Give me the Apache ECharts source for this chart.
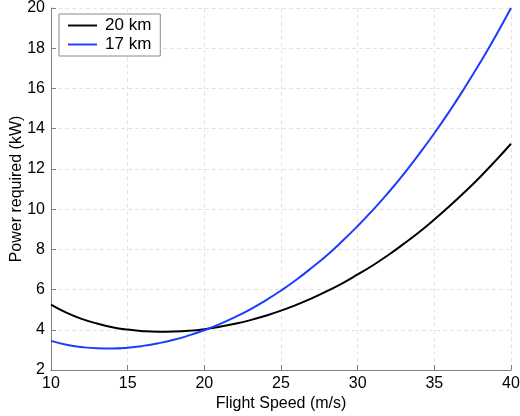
<!DOCTYPE html>
<html>
<head>
<meta charset="utf-8">
<script src="https://cdn.jsdelivr.net/npm/echarts@6/dist/echarts.min.js"></script>
<style>
  html, body { margin: 0; padding: 0; background: #fff; }
  #chart { width: 520px; height: 416px; }
</style>
</head>
<body>
<div id="chart"></div>
<script>
// flight speed (m/s)
const speeds = [10, 11, 12, 13, 14, 15, 16, 17, 18, 19, 20, 21, 22, 23, 24, 25,
  26, 27, 28, 29, 30, 31, 32, 33, 34, 35, 36, 37, 38, 39, 40];
// power required (kW) at 20 km
const power20km = [5.25, 4.85, 4.54, 4.31, 4.13, 4.01, 3.93, 3.90, 3.91, 3.95, 4.03,
  4.15, 4.30, 4.48, 4.70, 4.95, 5.24, 5.56, 5.92, 6.31, 6.75, 7.21, 7.72, 8.27,
  8.85, 9.48, 10.15, 10.86, 11.61, 12.41, 13.25];
// power required (kW) at 17 km
const power17km = [3.45, 3.26, 3.14, 3.08, 3.07, 3.11, 3.20, 3.33, 3.50, 3.72, 3.98,
  4.28, 4.63, 5.02, 5.46, 5.95, 6.49, 7.08, 7.71, 8.41, 9.16, 9.96, 10.82, 11.74,
  12.73, 13.77, 14.88, 16.06, 17.30, 18.61, 20.00];
const seriesNames = ["20 km", "17 km"];

const font = "Liberation Sans, Arial, sans-serif";

const pairs = (ys) => speeds.map((x, i) => [x, ys[i]]);

const chart = echarts.init(document.getElementById("chart"));

// shared axis look: gray line, inner ticks, dashed light grid
const axisBase = {
  axisLine: { show: true, lineStyle: { color: "#7f7f7f", width: 1 } },
  axisTick: { show: true, inside: true, length: 5, lineStyle: { color: "#7f7f7f" } },
  splitLine: { show: true, lineStyle: { color: "#e4e4e4", type: [4, 3], width: 1 } },
  axisLabel: { color: "#000", fontSize: 16, fontFamily: font },
  nameTextStyle: { color: "#000", fontSize: 16, fontFamily: font },
  nameMoveOverlap: false,
};

chart.setOption({
  animation: false,
  backgroundColor: "#fff",
  grid: { left: 51, right: 9, top: 8, bottom: 46, outerBoundsMode: "none" },
  legend: {
    left: 59,
    top: 14,
    orient: "vertical",
    data: seriesNames,
    backgroundColor: "#fff",
    borderColor: "#8a8a8a",
    borderWidth: 1,
    borderRadius: 0,
    padding: [3, 9, 3, 9],
    itemGap: 2,
    itemWidth: 29,
    itemHeight: 15,
    textStyle: { color: "#000", fontSize: 17, fontFamily: font, padding: [0, 0, 0, 3] },
    icon: "path://M0,6 L30,6 L30,8 L0,8 Z",
  },
  xAxis: Object.assign({}, axisBase, {
    type: "value",
    min: 10,
    max: 40,
    interval: 5,
    name: "Flight Speed (m/s)",
    nameLocation: "middle",
    nameGap: 26,
    axisLabel: Object.assign({}, axisBase.axisLabel, { margin: 6 }),
  }),
  yAxis: Object.assign({}, axisBase, {
    type: "value",
    min: 2,
    max: 20,
    interval: 2,
    name: "Power required (kW)",
    nameLocation: "middle",
    nameGap: 26,
    axisLabel: Object.assign({}, axisBase.axisLabel, { margin: 6 }),
  }),
  series: [
    {
      name: seriesNames[0],
      type: "line",
      data: pairs(power20km),
      smooth: true,
      showSymbol: false,
      color: "#000",
      lineStyle: { width: 2, color: "#000" },
    },
    {
      name: seriesNames[1],
      type: "line",
      data: pairs(power17km),
      smooth: true,
      showSymbol: false,
      color: "#1c3cff",
      lineStyle: { width: 2, color: "#1c3cff" },
    },
  ],
});
</script>
</body>
</html>
